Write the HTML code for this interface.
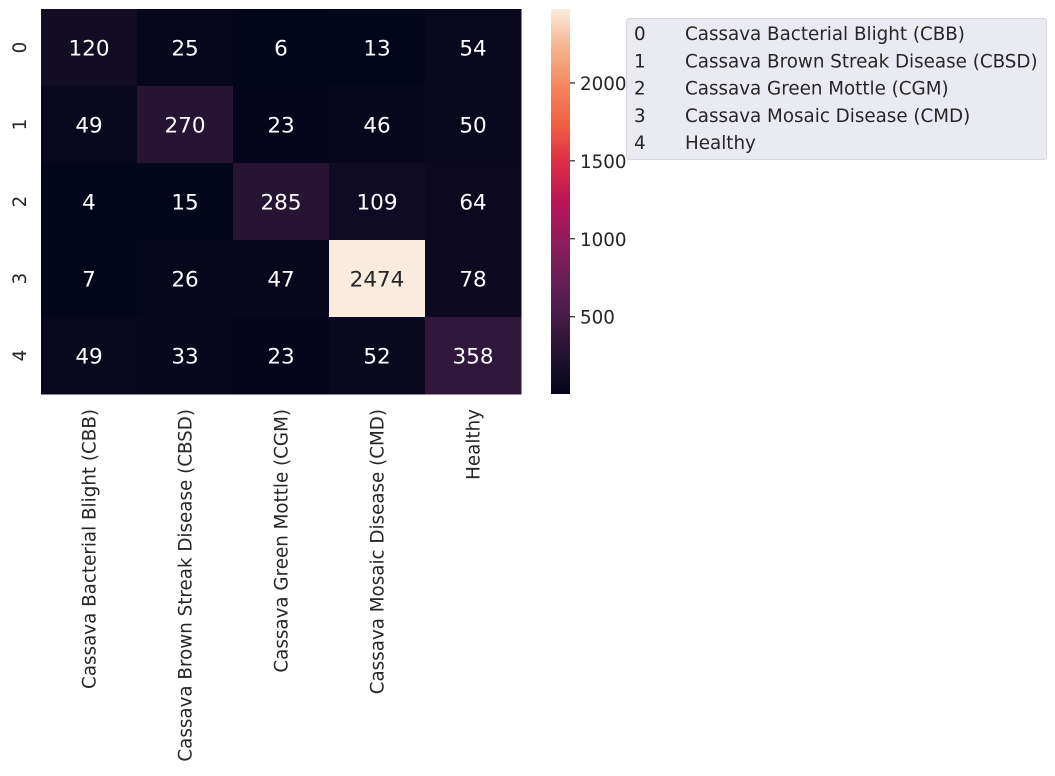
<!DOCTYPE html>
<html><head><meta charset="utf-8"><style>
body{margin:0;background:#fff;width:1055px;height:771px;overflow:hidden}
svg{font-family:"DejaVu Sans","Liberation Sans",sans-serif}
</style></head><body>
<svg id="chart" width="1055" height="771" viewBox="0 0 1055 771" xmlns="http://www.w3.org/2000/svg">
<defs>
<linearGradient id="cbgrad" x1="0" y1="1" x2="0" y2="0">
<stop offset="0" stop-color="#03051a"/><stop offset="0.1" stop-color="#221331"/><stop offset="0.2" stop-color="#451c47"/><stop offset="0.3" stop-color="#6a1f56"/><stop offset="0.4" stop-color="#921c5b"/><stop offset="0.5" stop-color="#b91657"/><stop offset="0.6" stop-color="#dd2c45"/><stop offset="0.7" stop-color="#f06043"/><stop offset="0.8" stop-color="#f4875e"/><stop offset="0.9" stop-color="#f6b48e"/><stop offset="1" stop-color="#faebdd"/>
</linearGradient>
</defs>
<g id="cells"></g>
<rect x="551" y="9" width="19" height="385" fill="url(#cbgrad)"/>
<g id="cbticks"></g>
<g id="xlabels"></g>
<g id="ylabels"></g>
<g>
<rect x="626.5" y="18.5" width="420" height="141" rx="3" fill="#eaeaf2" stroke="#d6d6dc"/>
<g id="legend-entries" font-size="18.3" fill="#262626"></g>
</g>
</svg>
<script>
const rowLabels=["0","1","2","3","4"];
const colLabels=["Cassava Bacterial Blight (CBB)","Cassava Brown Streak Disease (CBSD)","Cassava Green Mottle (CGM)","Cassava Mosaic Disease (CMD)","Healthy"];
const row0=[120,25,6,13,54];
const row1=[49,270,23,46,50];
const row2=[4,15,285,109,64];
const row3=[7,26,47,2474,78];
const row4=[49,33,23,52,358];
const cbTicks=[500,1000,1500,2000];
const matrix=[row0,row1,row2,row3,row4];
const NS="http://www.w3.org/2000/svg";
const X0=41,X1=521,Y0=9,Y1=394,CB0=394,CB1=9;
const all=matrix.flat();const vmin=Math.min(...all),vmax=Math.max(...all);
const cw=(X1-X0)/colLabels.length,ch=(Y1-Y0)/rowLabels.length;
const xPos=i=>X0+i*cw, yPos=j=>Y0+j*ch;
const cbY=v=>CB0-(v-vmin)/(vmax-vmin)*(CB0-CB1);
const stops=["#03051a","#221331","#451c47","#6a1f56","#921c5b","#b91657","#dd2c45","#f06043","#f4875e","#f6b48e","#faebdd"];
function hex(h){return [1,3,5].map(k=>parseInt(h.substr(k,2),16));}
function cmap(t){t=Math.max(0,Math.min(1,t))*10;const i=Math.min(9,Math.floor(t)),f=t-i;const a=hex(stops[i]),b=hex(stops[i+1]);return `rgb(${a.map((v,k)=>Math.round(v+(b[k]-v)*f)).join(',')})`;}
function mk(tag,attrs,parent){const e=document.createElementNS(NS,tag);for(const k in attrs)e.setAttribute(k,attrs[k]);parent.appendChild(e);return e;}
const cells=document.getElementById('cells');
matrix.forEach((row,j)=>row.forEach((v,i)=>{
 const t=(v-vmin)/(vmax-vmin);
 const r=mk('rect',{x:xPos(i),y:yPos(j),width:cw+0.5,height:ch+0.5,fill:cmap(t)},cells);
 
 
 const tx=mk('text',{x:xPos(i)+cw/2,y:yPos(j)+ch/2+8,'text-anchor':'middle','font-size':21.5,fill:t>0.5?'#262626':'#ffffff'},cells);
 tx.textContent=v;
 
 
}));
const cbt=document.getElementById('cbticks');
cbTicks.forEach(v=>{const y=cbY(v);
 const l=mk('line',{x1:570,x2:575,y1:y,y2:y,stroke:'#262626','stroke-width':1.2},cbt);
 
 
 const t=mk('text',{x:580,y:y+7,'font-size':18.3,fill:'#262626'},cbt);t.textContent=v;
 
 
});
const xl=document.getElementById('xlabels');
colLabels.forEach((s,i)=>{const x=xPos(i)+cw/2;
 const t=mk('text',{transform:`translate(${x+6.5},409) rotate(-90)`,'text-anchor':'end','font-size':18.3,fill:'#262626'},xl);t.textContent=s;
 
 
});
const yl=document.getElementById('ylabels');
rowLabels.forEach((s,j)=>{const y=yPos(j)+ch/2;
 const t=mk('text',{transform:`translate(26,${y}) rotate(-90)`,'text-anchor':'middle','font-size':18.3,fill:'#262626'},yl);t.textContent=s;
 
 
});
const le=document.getElementById('legend-entries');
colLabels.forEach((s,i)=>{const y=40+i*27.3;
 const n=mk('text',{x:634,y:y},le);n.textContent=rowLabels[i];
 
 
 const t=mk('text',{x:685,y:y},le);t.textContent=s;
 
 
});
</script>
</body></html>
